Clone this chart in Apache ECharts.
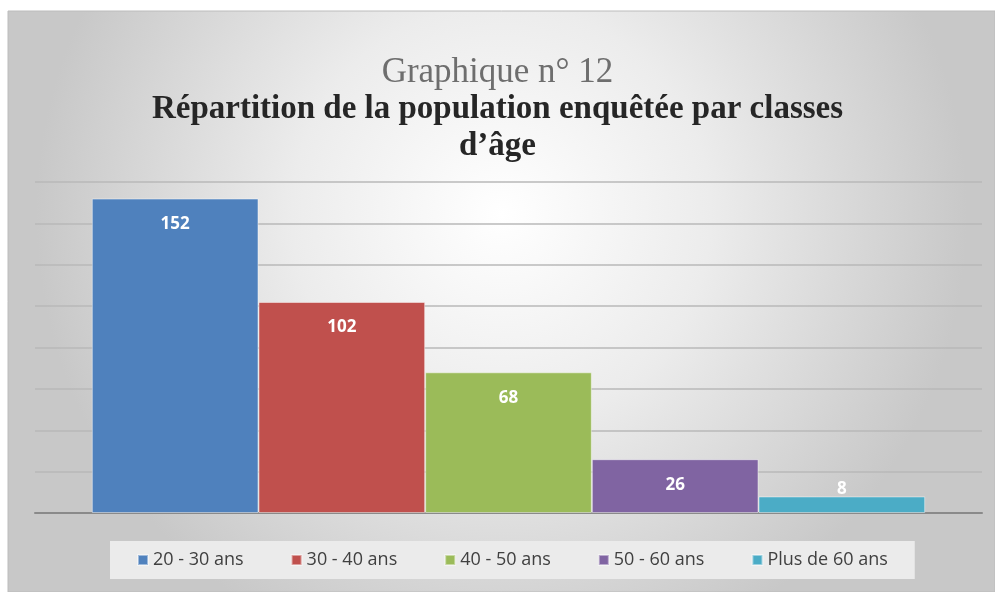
<!DOCTYPE html>
<html>
<head>
<meta charset="utf-8">
<script src="https://cdn.jsdelivr.net/npm/echarts@6/dist/echarts.min.js"></script>
<style>
  html, body { margin: 0; padding: 0; background: #fff; }
  #chart { width: 995px; height: 592px; }
</style>
</head>
<body>
<div id="chart"></div>
<script>
// classes d'âge et effectifs
var AGE_CLASSES = ['20 - 30 ans', '30 - 40 ans', '40 - 50 ans', '50 - 60 ans', 'Plus de 60 ans'];
var EFFECTIFS = [152, 102, 68, 26, 8];
var COLORS = ['#4f81bd', '#c0504d', '#9bbb59', '#8064a2', '#4bacc6'];

var chart = echarts.init(document.getElementById('chart'));

var series = [];
for (var i = 0; i < AGE_CLASSES.length; i++) {
    var small = EFFECTIFS[i] < 15;
    series.push({
        name: AGE_CLASSES[i],
        type: 'bar',
        data: [EFFECTIFS[i]],
        barGap: '0%',
        barCategoryGap: '12%',
        itemStyle: {
            color: COLORS[i],
            borderColor: 'rgba(255,255,255,0.45)',
            borderWidth: 1
        },
        label: {
            show: true,
            position: small ? 'top' : 'insideTop',
            distance: small ? -1 : 17,
            color: '#fff',
            fontWeight: 'bold',
            fontSize: 17,
            fontFamily: 'Open Sans'
        }
    });
}

var boldTitle = {
    fontFamily: 'Liberation Serif',
    fontWeight: 'bold',
    fontSize: 33,
    color: '#262626'
};

var option = {
    animation: false,
    graphic: [{
        type: 'rect',
        z: -10,
        shape: { x: 8, y: 11, width: 987, height: 581 },
        style: {
            fill: new echarts.graphic.RadialGradient(0.5, 0.35, 0.8, [
                { offset: 0, color: '#ffffff' },
                { offset: 0.45, color: '#ececec' },
                { offset: 1, color: '#c8c8c8' }
            ]),
            stroke: '#bcbcbc',
            lineWidth: 1
        }
    }],
    title: [{
        text: 'Graphique n° 12',
        left: 'center',
        top: 50,
        textStyle: {
            fontFamily: 'Liberation Serif',
            fontWeight: 'normal',
            fontSize: 35,
            color: '#6e6e6e'
        }
    }, {
        text: 'Répartition de la population enquêtée par classes',
        left: 'center',
        top: 88,
        textStyle: boldTitle
    }, {
        text: 'd’âge',
        left: 'center',
        top: 125,
        textStyle: boldTitle
    }],
    legend: {
        data: AGE_CLASSES,
        left: 110,
        top: 541,
        icon: 'rect',
        itemWidth: 10,
        itemHeight: 10,
        itemGap: 47,
        padding: [10, 27],
        backgroundColor: '#ebebeb',
        textStyle: {
            fontFamily: 'Open Sans',
            fontSize: 18,
            color: '#404040'
        }
    },
    grid: { left: 35, right: 13, top: 182, bottom: 79 },
    xAxis: {
        type: 'category',
        data: ['Population'],
        axisLine: { lineStyle: { color: '#8a8a8a', width: 2 } },
        axisTick: { show: false },
        axisLabel: { show: false }
    },
    yAxis: {
        type: 'value',
        min: 0,
        max: 160,
        interval: 20,
        axisLine: { show: false },
        axisTick: { show: false },
        axisLabel: { show: false },
        splitLine: { lineStyle: { color: '#b8b8b8', width: 1.5 } }
    },
    series: series
};

chart.setOption(option);
</script>
</body>
</html>
